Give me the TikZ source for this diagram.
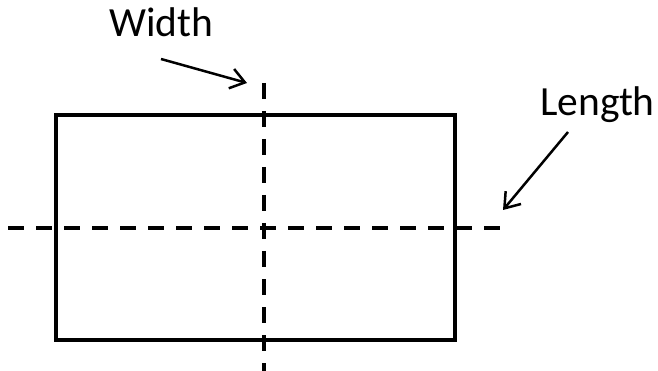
\documentclass[tikz,border=0pt]{standalone}
\usepackage{fontspec}
\setmainfont{Carlito}
\usetikzlibrary{arrows.meta}
\begin{document}
\begin{tikzpicture}[x=1pt,y=-1pt,
  box/.style={draw=black, line width=4pt},
  axisline/.style={draw=black, line width=4pt, dash pattern=on 16pt off 12pt},
  pointer/.style={draw=black, line width=2.5pt, -{Straight Barb[length=14pt,width=20pt]}},
  label/.style={inner sep=0pt, anchor=base west, font=\fontsize{41.5}{50}\selectfont}]
\useasboundingbox (0,0) rectangle (658,371);
\node[box, minimum width=399pt, minimum height=225pt, inner sep=0pt, line width=4pt] (rect) at (255.5,227.5) {};
\coordinate (hL) at (8,228);
\coordinate (hR) at (500,228);
\coordinate (vT) at (264,83);
\coordinate (vB) at (264,372);
\draw[axisline] (hL) -- (hR);
\draw[axisline] (vT) -- (vB);
\node[label] (width) at (109,37) {Width};
\node[label] (length) at (540,116) {Length};
\coordinate (wS) at (161,59);
\coordinate (wE) at (247,83);
\coordinate (lS) at (568,132);
\coordinate (lE) at (503,210);
\draw[pointer] (wS) -- (wE);
\draw[pointer] (lS) -- (lE);
\end{tikzpicture}
\end{document}
